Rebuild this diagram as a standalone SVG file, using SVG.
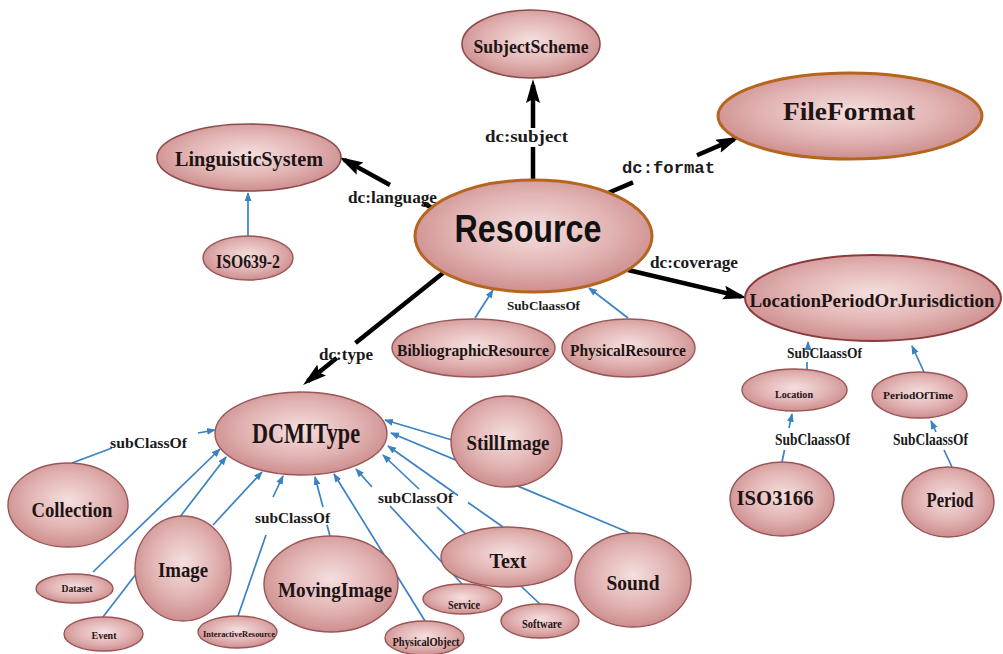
<svg xmlns="http://www.w3.org/2000/svg" width="1003" height="654" viewBox="0 0 1003 654">
<style>
.n ellipse{fill:url(#pink);stroke:#9a5656;stroke-width:1.4}
.n text{font-family:"Liberation Serif","Times New Roman",serif;font-weight:bold;fill:#1e1414;text-anchor:middle}
.thick ellipse{stroke:#b5651d;stroke-width:3}
.blk{fill:none;stroke:#000;stroke-width:4.5;marker-end:url(#ab)}
.blu{fill:none;stroke:#3a82c4;stroke-width:1.7;marker-end:url(#au)}
.lbl{font-family:"Liberation Serif","Times New Roman",serif;font-weight:bold;fill:#1a1a1a;text-anchor:middle}
.mono{font-family:"Liberation Mono","Courier New",monospace;font-weight:bold;fill:#1a1a1a;text-anchor:middle}
</style>
<defs>
<radialGradient id="pink" cx="50%" cy="45%" r="60%">
<stop offset="0%" stop-color="#f5dfdf"/>
<stop offset="55%" stop-color="#e2b3b3"/>
<stop offset="100%" stop-color="#c98686"/>
</radialGradient>
<marker id="ab" markerUnits="userSpaceOnUse" markerWidth="26" markerHeight="16" refX="18" refY="7" orient="auto">
<path d="M0,0 L24,7 L0,14 L4,7 Z" fill="#000"/>
</marker>
<marker id="au" markerUnits="userSpaceOnUse" markerWidth="11" markerHeight="8" refX="8" refY="3.5" orient="auto">
<path d="M0,0 L9,3.5 L0,7 Z" fill="#3a82c4"/>
</marker>
</defs>
<rect width="1003" height="654" fill="#fff"/>

<g id="connectors">
<path class="blk" d="M533,180 L533,147 M533,128 L533,85"/>
<path class="blk" d="M434,209 L424,203.5 M390,185 L344.3,159.9"/>
<path class="blk" d="M608,193 L633,182.4 M697,155.2 L734.4,139.1"/>
<path class="blk" d="M628,270 L741.2,296.6"/>
<path class="blk" d="M443,273 L355.5,343 M336.7,358 L307.7,381.3"/>

<path class="blu" d="M248,236 L248,193"/>
<path class="blu" d="M475,318 L493,290"/>
<path class="blu" d="M628,318 L589,288"/>
<path class="blu" d="M807,369 L807,362 M808,347 L808,342"/>
<path class="blu" d="M924,372 L912,346"/>
<path class="blu" d="M782,462 L784.5,450 M789,428 L792,414"/>
<path class="blu" d="M952,467 L944,450 M936,432 L931,421"/>

<path class="blu" d="M72,463 L112,448 M198,433 L215,430"/>
<path class="blu" d="M93,572 L220,449"/>
<path class="blu" d="M103,617 L226,457"/>
<path class="blu" d="M213,525 L262,472"/>
<path class="blu" d="M238,616 L266,535 M273,497 L283,476"/>
<path class="blu" d="M330,536 L327,525 M323,507 L315,477"/>
<path class="blu" d="M425,621 L334,474"/>
<path class="blu" d="M462,584 L390,506 M372,487 L356,469"/>
<path class="blu" d="M540,604 L437,507 M419,489 L383,455"/>
<path class="blu" d="M503,527 L468,502.5 M458,495.5 L388,446"/>
<path class="blu" d="M630,533 L391,433"/>
<path class="blu" d="M452,440 L385,420"/>

<text class="lbl" x="526.5" y="142" font-size="17" textLength="83" lengthAdjust="spacingAndGlyphs">dc:subject</text>
<text class="lbl" x="392.5" y="203" font-size="17" textLength="89" lengthAdjust="spacingAndGlyphs">dc:language</text>
<text class="mono" x="668.5" y="173" font-size="17" textLength="93" lengthAdjust="spacingAndGlyphs">dc:format</text>
<text class="lbl" x="694" y="268" font-size="17" textLength="88" lengthAdjust="spacingAndGlyphs">dc:coverage</text>
<text class="lbl" x="346" y="360" font-size="17" textLength="54" lengthAdjust="spacingAndGlyphs">dc:type</text>
<text class="lbl" x="543.5" y="310" font-size="13.5" textLength="73" lengthAdjust="spacingAndGlyphs">SubClaassOf</text>
<text class="lbl" x="824.5" y="358" font-size="14" textLength="75" lengthAdjust="spacingAndGlyphs">SubClaassOf</text>
<text class="lbl" x="812.5" y="445" font-size="16.5" textLength="75" lengthAdjust="spacingAndGlyphs">SubClaassOf</text>
<text class="lbl" x="930.5" y="445" font-size="16.5" textLength="75" lengthAdjust="spacingAndGlyphs">SubClaassOf</text>
<text class="lbl" x="148.5" y="448" font-size="15.5" textLength="77" lengthAdjust="spacingAndGlyphs">subClassOf</text>
<text class="lbl" x="292.5" y="523" font-size="15.5" textLength="75" lengthAdjust="spacingAndGlyphs">subClassOf</text>
<text class="lbl" x="415.5" y="503" font-size="15.5" textLength="75" lengthAdjust="spacingAndGlyphs">subClassOf</text>
</g>

<g id="n-subjectscheme" class="n"><ellipse cx="531" cy="44" rx="69" ry="34" style="stroke:#8d4b4b;stroke-width:1.6"/><text x="531" y="53" font-size="18.5" textLength="115" lengthAdjust="spacingAndGlyphs">SubjectScheme</text></g>
<g id="n-fileformat" class="n thick"><ellipse cx="850" cy="116" rx="132" ry="43"/><text x="849" y="120" font-size="26" textLength="132" lengthAdjust="spacingAndGlyphs">FileFormat</text></g>
<g id="n-linguisticsystem" class="n"><ellipse cx="249" cy="157.5" rx="92" ry="33.5" style="stroke:#8d4b4b;stroke-width:1.6"/><text x="249" y="166" font-size="22" textLength="148" lengthAdjust="spacingAndGlyphs">LinguisticSystem</text></g>
<g id="n-iso639" class="n"><ellipse cx="248" cy="258" rx="45" ry="22"/><text x="248" y="268" font-size="19" textLength="64" lengthAdjust="spacingAndGlyphs">ISO639-2</text></g>
<g id="n-resource" class="n thick"><ellipse cx="533.5" cy="236" rx="118.5" ry="56"/><text x="528" y="242" font-size="38" textLength="147" lengthAdjust="spacingAndGlyphs" style="font-family:'Liberation Sans',Arial,sans-serif;fill:#111">Resource</text></g>
<g id="n-lpoj" class="n"><ellipse cx="873" cy="298" rx="128" ry="43" style="stroke:#8b3b3b;stroke-width:2"/><text x="872" y="307" font-size="19.5" textLength="245" lengthAdjust="spacingAndGlyphs">LocationPeriodOrJurisdiction</text></g>
<g id="n-bibliographic" class="n"><ellipse cx="473.5" cy="348" rx="81.5" ry="29"/><text x="473" y="356" font-size="17.5" textLength="152" lengthAdjust="spacingAndGlyphs">BibliographicResource</text></g>
<g id="n-physicalresource" class="n"><ellipse cx="628.5" cy="348" rx="66.5" ry="29"/><text x="628" y="356" font-size="17.5" textLength="116" lengthAdjust="spacingAndGlyphs">PhysicalResource</text></g>
<g id="n-location" class="n"><ellipse cx="794.5" cy="390" rx="52.5" ry="21"/><text x="794" y="398" font-size="10.5" textLength="38" lengthAdjust="spacingAndGlyphs">Location</text></g>
<g id="n-periodoftime" class="n"><ellipse cx="919.5" cy="395" rx="47.5" ry="23"/><text x="918" y="399" font-size="11" textLength="70" lengthAdjust="spacingAndGlyphs">PeriodOfTime</text></g>
<g id="n-iso3166" class="n"><ellipse cx="782" cy="499" rx="52" ry="37"/><text x="775" y="505" font-size="22" textLength="77" lengthAdjust="spacingAndGlyphs">ISO3166</text></g>
<g id="n-period" class="n"><ellipse cx="948" cy="502" rx="46" ry="35"/><text x="950" y="507" font-size="22" textLength="47" lengthAdjust="spacingAndGlyphs">Period</text></g>

<g id="n-dcmitype" class="n"><ellipse cx="301" cy="433.5" rx="86" ry="41.5"/><text x="306" y="443" font-size="29" textLength="108" lengthAdjust="spacingAndGlyphs">DCMIType</text></g>
<g id="n-stillimage" class="n"><ellipse cx="506.5" cy="441.5" rx="55.5" ry="45.5"/><text x="508" y="450" font-size="22" textLength="83" lengthAdjust="spacingAndGlyphs">StillImage</text></g>
<g id="n-collection" class="n"><ellipse cx="68" cy="505" rx="60" ry="42"/><text x="72" y="517" font-size="22" textLength="81" lengthAdjust="spacingAndGlyphs">Collection</text></g>
<g id="n-image" class="n"><ellipse cx="183" cy="568.5" rx="48" ry="52.5"/><text x="183" y="577" font-size="22" textLength="50" lengthAdjust="spacingAndGlyphs">Image</text></g>
<g id="n-dataset" class="n"><ellipse cx="74.5" cy="588.5" rx="38.5" ry="14.5"/><text x="77" y="592" font-size="10" textLength="31" lengthAdjust="spacingAndGlyphs">Dataset</text></g>
<g id="n-event" class="n"><ellipse cx="103.5" cy="634" rx="39.5" ry="17"/><text x="104" y="639" font-size="10" textLength="25" lengthAdjust="spacingAndGlyphs">Event</text></g>
<g id="n-interactiveresource" class="n"><ellipse cx="237.5" cy="632" rx="39.5" ry="16"/><text x="239" y="637" font-size="9" textLength="72" lengthAdjust="spacingAndGlyphs">InteractiveResource</text></g>
<g id="n-movingimage" class="n"><ellipse cx="331" cy="584" rx="67" ry="48"/><text x="335" y="597" font-size="22" textLength="114" lengthAdjust="spacingAndGlyphs">MovingImage</text></g>
<g id="n-text" class="n"><ellipse cx="506.5" cy="557" rx="65.5" ry="30"/><text x="508" y="568" font-size="22" textLength="37" lengthAdjust="spacingAndGlyphs">Text</text></g>
<g id="n-sound" class="n"><ellipse cx="633" cy="580" rx="58" ry="47"/><text x="633" y="590" font-size="22" textLength="53" lengthAdjust="spacingAndGlyphs">Sound</text></g>
<g id="n-service" class="n"><ellipse cx="462.5" cy="599" rx="39.5" ry="15"/><text x="464" y="609" font-size="12" textLength="32" lengthAdjust="spacingAndGlyphs">Service</text></g>
<g id="n-software" class="n"><ellipse cx="540" cy="621" rx="39" ry="17"/><text x="542" y="628" font-size="12" textLength="40" lengthAdjust="spacingAndGlyphs">Software</text></g>
<g id="n-physicalobject" class="n"><ellipse cx="424.5" cy="638" rx="39.5" ry="17"/><text x="426" y="646" font-size="12.5" textLength="67" lengthAdjust="spacingAndGlyphs">PhysicalObject</text></g>
</svg>
